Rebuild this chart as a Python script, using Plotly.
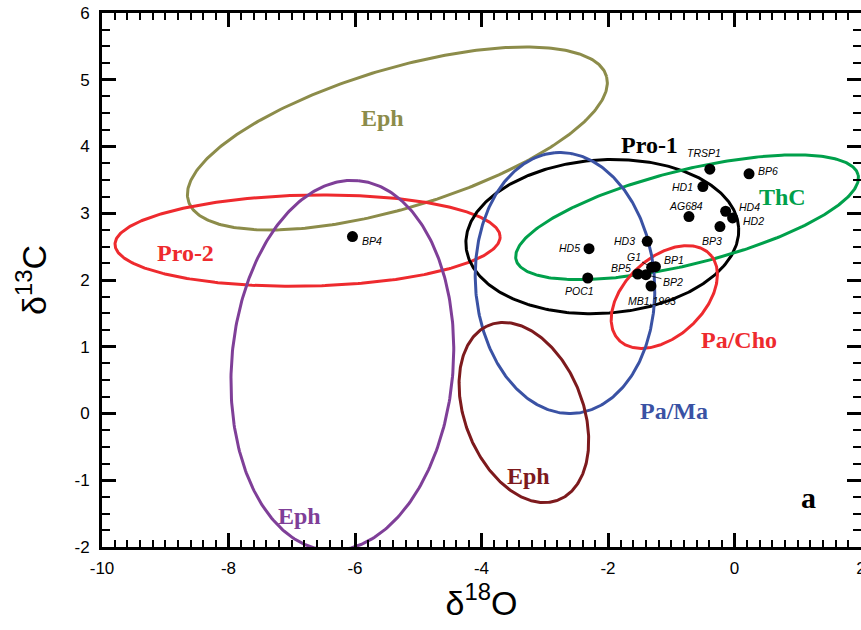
import numpy as np
import plotly.graph_objects as go

# ---------------- data ----------------
sample_names = ["BP4", "TRSP1", "BP6", "HD1", "AG684", "HD4", "HD2", "BP3",
                "HD5", "HD3", "POC1", "BP5", "BP2", "G1", "BP1", "MB1.1903"]
sample_d18O = [-6.04, -0.39, 0.23, -0.50, -0.72, -0.14, -0.03, -0.23,
               -2.30, -1.38, -2.32, -1.53, -1.40, -1.31, -1.25, -1.32]
sample_d13C = [2.65, 3.66, 3.59, 3.40, 2.95, 3.03, 2.93, 2.80,
               2.47, 2.58, 2.03, 2.09, 2.08, 2.19, 2.20, 1.91]

# field ellipses (centre, semi-axes, rotation in degrees)
ell_names = ["Eph (olive)", "Pro-2", "Eph (purple)", "Pro-1", "ThC", "Pa/Cho", "Pa/Ma", "Eph (dark red)"]
ell_cx = [-5.33, -6.75, -6.20, -2.09, -0.75, -1.11, -2.68, -3.33]
ell_cy = [4.12, 2.59, 0.72, 2.65, 2.94, 1.745, 1.955, 0.015]
ell_a = [3.435, 3.045, 2.78, 2.16, 2.778, 0.967, 1.958, 1.42]
ell_b = [1.049, 0.682, 1.75, 1.15, 0.707, 0.603, 1.415, 0.925]
ell_angle = [15.65, 1.1, 84.7, 3.5, 13.15, 39.3, 94.8, 114.2]

group_labels = ["Eph", "Pro-2", "Eph", "Pro-1", "ThC", "Pa/Cho", "Pa/Ma", "Eph"]
group_label_x = [-5.57, -8.68, -6.87, -1.34, 0.76, 0.07, -0.96, -3.26]
group_label_y = [4.43, 2.40, -1.53, 4.02, 3.25, 1.10, 0.04, -0.93]

x_tick_vals = [-10, -8, -6, -4, -2, 0, 2]
x_tick_text = ["-10", "-8", "-6", "-4", "-2", "0", "2"]
y_tick_vals = [-2, -1, 0, 1, 2, 3, 4, 5, 6]
y_tick_text = ["-2", "-1", "0", "1", "2", "3", "4", "5", "6"]

# ---------------- styles ----------------
ell_colors = ["#8c8c4a", "#ee2a2e", "#7f3f98", "#000000", "#00a04b", "#ee2a2e", "#3a52a4", "#7d1a1d"]

# label offsets in pixels: (xshift, yshift, xanchor)
label_style = {
    "BP4": (8, -4, "left"),
    "TRSP1": (-6, 16, "center"),
    "BP6": (7, 3, "left"),
    "HD1": (-8, 0, "right"),
    "AG684": (-3, 11, "center"),
    "HD4": (11, 4, "left"),
    "HD2": (8, -3, "left"),
    "BP3": (-8, -14, "center"),
    "HD5": (-7, 1, "right"),
    "HD3": (-10, 0, "right"),
    "POC1": (-8, -13, "center"),
    "BP5": (-5, 6, "right"),
    "BP1": (7, 7, "left"),
    "MB1.1903": (1, -15, "center"),
}
leader_style = {  # ax, ay (pixel offset of label from point, y down)
    "G1": (-18, -10),
    "BP2": (27, 7),
}
label_font = dict(family="Liberation Sans", size=10.5, color="black")

fig = go.Figure()

t = np.linspace(0, 2 * np.pi, 361)
for i in range(len(ell_names)):
    th = np.deg2rad(ell_angle[i])
    ex = ell_cx[i] + ell_a[i] * np.cos(t) * np.cos(th) - ell_b[i] * np.sin(t) * np.sin(th)
    ey = ell_cy[i] + ell_a[i] * np.cos(t) * np.sin(th) + ell_b[i] * np.sin(t) * np.cos(th)
    fig.add_trace(go.Scatter(x=ex, y=ey, mode="lines",
                             line=dict(color=ell_colors[i], width=3),
                             hoverinfo="skip", showlegend=False, name=ell_names[i]))

fig.add_trace(go.Scatter(x=sample_d18O, y=sample_d13C, mode="markers",
                         marker=dict(color="black", size=11),
                         text=sample_names, showlegend=False))

annotations = []
for name, xv, yv in zip(sample_names, sample_d18O, sample_d13C):
    if name in leader_style:
        ax, ay = leader_style[name]
        annotations.append(dict(x=xv, y=yv, xref="x", yref="y", text="<i>" + name + "</i>",
                                showarrow=True, arrowhead=0, arrowwidth=0.8,
                                arrowcolor="black", ax=ax, ay=ay, standoff=3,
                                font=label_font))
    else:
        xs, ys, xa = label_style[name]
        annotations.append(dict(x=xv, y=yv, xref="x", yref="y", text="<i>" + name + "</i>",
                                showarrow=False, xshift=xs, yshift=ys, xanchor=xa,
                                yanchor="middle", font=label_font))
for i in range(len(group_labels)):
    annotations.append(dict(x=group_label_x[i], y=group_label_y[i], xref="x", yref="y",
                            text="<b>" + group_labels[i] + "</b>", showarrow=False,
                            font=dict(family="Liberation Serif", size=24, color=ell_colors[i])))
annotations.append(dict(x=1.17, y=-1.26, xref="x", yref="y", text="<b>a</b>", showarrow=False,
                        font=dict(family="Liberation Serif", size=30, color="black")))

axis_common = dict(showgrid=False, zeroline=False, showline=True, linecolor="black",
                   linewidth=3, mirror="ticks", ticks="inside", tickcolor="black",
                   tickwidth=2.5, ticklen=14, automargin=False, ticklabeloverflow="allow",
                   tickfont=dict(family="Liberation Sans", size=17, color="black"))

fig.update_layout(
    width=861, height=630,
    margin=dict(l=102, r=0, t=13, b=83),
    paper_bgcolor="white", plot_bgcolor="white",
    annotations=annotations,
    xaxis=dict(range=[-10, 2], tickvals=x_tick_vals, ticktext=x_tick_text,
               minor=dict(dtick=0.2, ticks="inside", ticklen=7, tickwidth=1.5, tickcolor="black"),
               title=dict(text="δ<sup>18</sup>O", standoff=10,
                          font=dict(family="Liberation Sans", size=34, color="black")),
               ticklabelstandoff=4,
               **axis_common),
    yaxis=dict(range=[-2, 6], tickvals=y_tick_vals, ticktext=y_tick_text,
               minor=dict(dtick=0.25, ticks="inside", ticklen=8, tickwidth=1.5, tickcolor="black"),
               title=dict(text="δ<sup>13</sup>C", standoff=18,
                          font=dict(family="Liberation Sans", size=34, color="black")),
               ticklabelstandoff=6,
               **axis_common),
)

fig.write_html("out.html", config={"displayModeBar": False},
               post_script="document.body.style.margin='0px';document.body.style.overflow='hidden';")
